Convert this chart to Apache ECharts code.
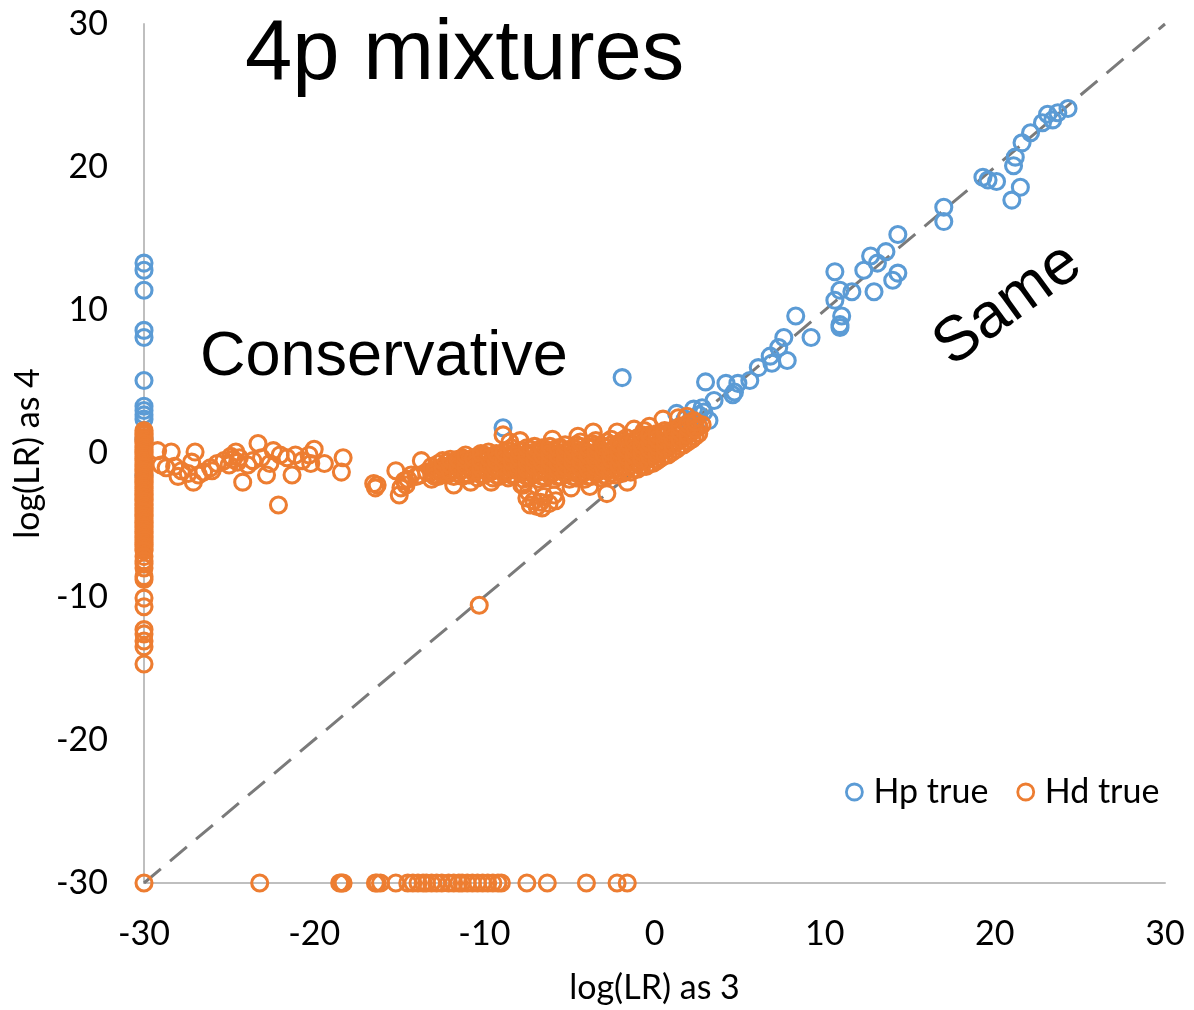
<!DOCTYPE html>
<html>
<head>
<meta charset="utf-8">
<script src="https://cdn.jsdelivr.net/npm/echarts@6/dist/echarts.min.js"></script>
<style>
html,body{margin:0;padding:0;background:#fff;}
#chart{width:1194px;height:1010px;}
</style>
</head>
<body>
<div id="chart"></div>
<script>
// ---- data ----
const xTicks = [-30, -20, -10, 0, 10, 20, 30];
const yTicks = [-30, -20, -10, 0, 10, 20, 30];

// Hp true: points stacked on x = -30
const hpColumnY = [13.3, 12.8, 11.4, 8.6, 8.1, 5.1, 3.3, 3.0, 2.7, 2.4, 1.0, -1.5];
// Hp true: other points
const hpPoints = [
  [24.3,24.1],[23.7,23.8],[23.4,23.3],[23.1,23.7],[22.8,23.1],[22.1,22.4],[21.6,21.7],[21.2,20.7],
  [21.1,20.1],[21.5,18.6],[21.0,17.7],[19.3,19.3],[19.6,19.1],[20.1,19.0],[17.0,17.2],[17.0,16.2],
  [14.3,15.3],[13.6,14.1],[12.7,13.8],[13.1,13.3],[12.3,12.8],[10.6,12.7],[10.9,11.4],[11.6,11.3],
  [10.6,10.7],[12.9,11.3],[14.3,12.6],[14.0,12.1],[11.0,9.6],[10.9,9.0],[10.9,8.8],[8.3,9.6],
  [9.2,8.1],[7.6,8.1],[7.3,7.4],[7.8,6.5],[6.8,6.8],[6.9,6.3],[6.1,6.0],[5.6,5.1],[4.9,4.9],
  [4.7,4.3],[4.2,4.9],[3.0,5.0],[4.6,4.1],[3.5,3.7],[2.8,3.2],[2.3,3.1],[1.3,2.8],[3.2,2.3],
  [2.6,2.7],[2.9,2.9],[-1.9,5.3],[-8.9,1.8],[2.0,2.0],[2.4,1.8],[1.8,2.4]
];

// Hd true: points stacked on x = -30
const hdColumnY = [1.6,1.42,1.31,1.12,0.98,0.83,0.71,0.52,0.41,0.24,0.09,-0.06,-0.22,-0.37,-0.49,-0.66,
  -0.81,-0.93,-1.12,-1.24,-1.41,-1.57,-1.69,-1.86,-2.01,-2.14,-2.32,-2.44,-2.61,-2.77,-2.88,-3.06,-3.21,
  -3.34,-3.52,-3.63,-3.81,-3.96,-4.08,-4.27,-4.39,-4.56,-4.71,-4.84,-5.02,-5.13,-5.31,-5.46,-5.58,-5.77,
  -5.89,-6.04,-6.22,-6.36,-6.49,-6.67,-6.8,-7.2,-7.5,-7.7,-8.0,-8.6,-8.8,-10.1,-10.7,-12.3,-12.6,-13.1,
  -13.5,-14.7,-30];
// Hd true: points stacked on y = -30
const hdFloorX = [-23.2,-18.5,-18.4,-18.3,-16.4,-16.3,-16.1,-15.2,-14.5,-14.2,-13.9,-13.6,-13.4,-13.1,
  -12.8,-12.5,-12.1,-11.8,-11.5,-11.3,-11.0,-10.7,-10.4,-10.1,-9.8,-9.5,-9.2,-9.0,-7.5,-6.3,-4.0,-2.2,-1.6];
// Hd true: scattered points
const hdPoints = [
  [-29.2,0.2],[-28.4,0.1],[-29.0,-0.8],[-28.7,-1.0],[-28.2,-0.9],[-27.8,-1.2],[-27.4,-1.4],[-27.0,0.1],
  [-27.2,-0.6],[-27.1,-2.0],[-26.8,-1.5],[-26.5,-1.3],[-26.1,-1.0],[-25.7,-0.7],[-25.3,-0.5],[-24.9,-0.2],
  [-24.6,0.1],[-24.5,-0.6],[-24.2,-2.0],[-23.9,-0.8],[-23.3,0.7],[-23.1,-0.3],[-22.8,-1.5],[-22.6,-0.7],
  [-22.4,0.2],[-22.1,-3.6],[-22.0,-0.1],[-21.6,-0.3],[-21.3,-1.5],[-21.1,-0.1],[-20.7,-0.5],[-20.3,-0.1],
  [-20.0,0.3],[-20.2,-0.7],[-19.4,-0.7],[-18.4,-1.3],[-18.3,-0.3],[-24.8,-0.4],[-24.4,-0.3],[-23.6,-0.5],
  [-25.0,-0.8],[-26.0,-1.2],[-28.0,-1.6],
  [-16.3,-2.2],[-16.4,-2.4],[-16.5,-2.1],[-15.2,-1.2],[-14.9,-2.4],[-15.0,-2.9],[-14.7,-1.9],[-14.3,-1.5],
  [-13.7,-0.5],[-13.8,-1.5],[-13.4,-1.3],[-13.0,-1.5],[-12.6,-1.3],[-12.3,-1.0],[-11.9,-0.8],[-11.8,-2.2],
  [-11.4,-0.7],[-11.0,-0.9],[-10.6,-0.6],[-10.2,-0.3],[-9.8,-0.2],[-9.2,-0.1],[-8.9,1.3],[-8.5,0.8],
  [-7.7,-2.2],[-7.5,-3.1],[-14.5,-1.8],[-14.0,-1.6],[-14.6,-2.2],
  [-3.6,1.5],[-2.2,1.5],[-1.2,1.7],[0.5,2.4],[1.9,2.6],[-7.8,-2.2],[-2.8,-2.8],[-6.7,-3.4],
  [-7.4,-2.7],[-7.1,-3.3],[-6.9,-3.7],[-6.5,-3.0],[-6.2,-3.5],[-5.9,-2.9],[-6.6,-3.8],[-7.3,-3.6],[-5.8,-3.3],
  [-7.9,0.9],[-6.0,1.0],[-4.5,1.2],[-0.6,1.6],[-0.3,1.9],[1.4,2.5],[2.3,2.3],[2.8,2.0],
  [-4.9,-2.4],[-3.8,-2.3],[-1.6,-2.0],[-9.6,-2.0],[-10.8,-2.0],[-10.3,-10.6]
];
// Hd true: dense band, grouped by x (two interleaved sets of columns)
const hdBandX = [-13.1,-12.7,-12.2,-11.8,-11.3,-10.9,-10.4,-10.0,-9.5,-9.1,-8.6,-8.2,-7.7,-7.3,-6.8,-6.4,
  -5.9,-5.5,-5.0,-4.6,-4.1,-3.7,-3.2,-2.8,-2.3,-1.9,-1.4,-1.0,-0.5,-0.1,0.4,0.8,1.3,1.7,2.2,2.6];
const hdBandY = [
  [-1.8,-1.3,-0.9],[-1.6,-1.1,-0.7],[-1.5,-1.0,-0.6],[-1.6,-1.1,-0.6],[-1.6,-1.1,-0.6,-0.3],[-1.5,-1.0,-0.5],
  [-1.7,-1.2,-0.7,-0.2],[-1.5,-1.0,-0.5,-0.1],[-1.7,-1.2,-0.7,-0.2],[-1.6,-1.1,-0.6,-0.1],
  [-1.7,-1.2,-0.7,-0.2,0.2],[-1.5,-1.0,-0.5,0.0],[-1.8,-1.3,-0.8,-0.3,0.2],[-1.6,-1.1,-0.6,-0.1,0.3],
  [-1.8,-1.3,-0.8,-0.3,0.2],[-1.7,-1.2,-0.7,-0.2,0.3],[-1.8,-1.3,-0.8,-0.3,0.2],[-1.6,-1.1,-0.6,-0.1,0.4],
  [-1.8,-1.3,-0.8,-0.3,0.2],[-1.7,-1.2,-0.7,-0.2,0.3,0.6],[-1.8,-1.3,-0.8,-0.3,0.2],
  [-1.6,-1.1,-0.6,-0.1,0.4,0.7],[-1.7,-1.2,-0.7,-0.2,0.3],[-1.6,-1.1,-0.6,-0.1,0.4,0.8],
  [-1.5,-1.0,-0.5,0.0,0.5],[-1.4,-0.9,-0.4,0.1,0.6,0.9],[-1.3,-0.8,-0.3,0.2,0.7],
  [-1.1,-0.6,-0.1,0.4,0.9,1.1],[-0.9,-0.4,0.1,0.6,1.1],[-0.7,-0.2,0.3,0.8,1.2],[-0.3,0.2,0.7,1.2,1.4],
  [-0.1,0.4,0.9,1.4],[0.3,0.8,1.3,1.7],[0.6,1.1,1.6,1.9],[1.0,1.5,2.0],[1.4,1.9]
];
const hdBand2X = [-12.9,-12.45,-12.0,-11.55,-11.1,-10.65,-10.2,-9.75,-9.3,-8.85,-8.4,-7.95,-7.5,-7.05,-6.6,
  -6.15,-5.7,-5.25,-4.8,-4.35,-3.9,-3.45,-3.0,-2.55,-2.1,-1.65,-1.2,-0.75,-0.3,0.15,0.6,1.05,1.5,1.95,2.4];
const hdBand2Y = [
  [-1.6,-1.1],[-1.4,-0.9,-0.5],[-1.3,-0.8,-0.4],[-1.4,-0.9,-0.4],[-1.4,-0.9,-0.4,-0.1],[-1.3,-0.8,-0.3],
  [-1.5,-1.0,-0.5,0.0],[-1.3,-0.8,-0.3,0.1],[-1.5,-1.0,-0.5,0.0],[-1.4,-0.9,-0.4,0.1],
  [-1.5,-1.0,-0.5,0.0,0.4],[-1.3,-0.8,-0.3,0.2],[-1.6,-1.1,-0.6,-0.1,0.4],[-1.4,-0.9,-0.4,0.1,0.5],
  [-1.6,-1.1,-0.6,-0.1,0.4],[-1.5,-1.0,-0.5,0.0,0.5],[-1.6,-1.1,-0.6,-0.1,0.4],[-1.4,-0.9,-0.4,0.1,0.6],
  [-1.6,-1.1,-0.6,-0.1,0.4],[-1.5,-1.0,-0.5,0.0,0.5,0.8],[-1.6,-1.1,-0.6,-0.1,0.4],
  [-1.4,-0.9,-0.4,0.1,0.6,0.9],[-1.5,-1.0,-0.5,0.0,0.5],[-1.4,-0.9,-0.4,0.1,0.6,1.0],
  [-1.3,-0.8,-0.3,0.2,0.7],[-1.2,-0.7,-0.2,0.3,0.8,1.1],[-1.1,-0.6,-0.1,0.4,0.9],
  [-0.9,-0.4,0.1,0.6,1.1,1.3],[-0.7,-0.2,0.3,0.8,1.3],[-0.5,0.0,0.5,1.0,1.4],[-0.1,0.4,0.9,1.4,1.6],
  [0.1,0.6,1.1,1.6],[0.5,1.0,1.5,1.9],[0.8,1.3,1.8,2.1],[1.2,1.7,2.2]
];
const diagonal = [[-30,-30],[30,30]];

// ---- build series data ----
const BLUE = '#5b9bd5', ORANGE = '#ed7d31';
const hpData = hpColumnY.map(y => [-30, y]).concat(hpPoints);
let hdData = hdColumnY.map(y => [-30, y]).concat(hdFloorX.map(x => [x, -30])).concat(hdPoints);
hdBandX.forEach((x, i) => hdBandY[i].forEach(y => hdData.push([x, y])));
hdBand2X.forEach((x, i) => hdBand2Y[i].forEach(y => hdData.push([x, y])));

const TICK_FONT = 'Lato, "Open Sans", sans-serif';
const TITLE_FONT = '"Liberation Sans", Arial, sans-serif';
const chart = echarts.init(document.getElementById('chart'), null, {renderer: 'canvas'});
chart.setOption({
  animation: false,
  backgroundColor: '#ffffff',
  grid: {left: 144, right: 29, top: 24, bottom: 124, containLabel: false},
  xAxis: {
    type: 'value', min: xTicks[0], max: xTicks[xTicks.length - 1], interval: 10,
    name: 'log(LR) as 3', nameLocation: 'middle', nameGap: 88,
    nameTextStyle: {fontFamily: TICK_FONT, fontSize: 34, color: '#000'},
    axisLine: {onZero: false, lineStyle: {color: '#bfbfbf', width: 2}},
    axisTick: {show: false}, splitLine: {show: false},
    axisLabel: {margin: 34, fontFamily: TICK_FONT, fontSize: 34, color: '#000'}
  },
  yAxis: {
    type: 'value', min: yTicks[0], max: yTicks[yTicks.length - 1], interval: 10,
    name: 'log(LR) as 4', nameLocation: 'middle', nameGap: 98, nameRotate: 90,
    nameTextStyle: {fontFamily: TICK_FONT, fontSize: 34, color: '#000'},
    axisLine: {onZero: false, lineStyle: {color: '#bfbfbf', width: 2}},
    axisTick: {show: false}, splitLine: {show: false},
    axisLabel: {margin: 36, fontFamily: TICK_FONT, fontSize: 34, color: '#000'}
  },
  legend: {
    left: 840, top: 770, itemWidth: 16, itemHeight: 16, itemGap: 28, icon: 'circle',
    textStyle: {fontFamily: TICK_FONT, fontSize: 34, color: '#000', padding: [0, 0, 0, 6]},
    data: [
      {name: 'Hp true', itemStyle: {color: 'rgba(0,0,0,0)', borderColor: BLUE, borderWidth: 2.8}},
      {name: 'Hd true', itemStyle: {color: 'rgba(0,0,0,0)', borderColor: ORANGE, borderWidth: 2.8}}
    ]
  },
  series: [
    {
      name: 'Same', type: 'line', data: diagonal, symbol: 'none', silent: true, z: 1,
      lineStyle: {color: '#7a7a7a', width: 3, type: [22, 12]}
    },
    {
      name: 'Hp true', type: 'scatter', data: hpData, symbol: 'circle', symbolSize: 16, z: 2,
      itemStyle: {color: 'rgba(0,0,0,0)', borderColor: BLUE, borderWidth: 3.1, opacity: 1}
    },
    {
      name: 'Hd true', type: 'scatter', data: hdData, symbol: 'circle', symbolSize: 16, z: 3,
      itemStyle: {color: 'rgba(0,0,0,0)', borderColor: ORANGE, borderWidth: 3.1, opacity: 1}
    }
  ],
  graphic: [
    {type: 'text', left: 245, top: 13, style: {text: '4p mixtures', font: '85px ' + TITLE_FONT, fill: '#000'}},
    {type: 'text', left: 200, top: 326, style: {text: 'Conservative', font: '63px ' + TITLE_FONT, fill: '#000'}},
    {type: 'text', x: 1008, y: 305, rotation: 36 * Math.PI / 180,
      style: {text: 'Same', font: '63px ' + TITLE_FONT, fill: '#000', align: 'center', verticalAlign: 'middle'}}
  ]
});
</script>
</body>
</html>
